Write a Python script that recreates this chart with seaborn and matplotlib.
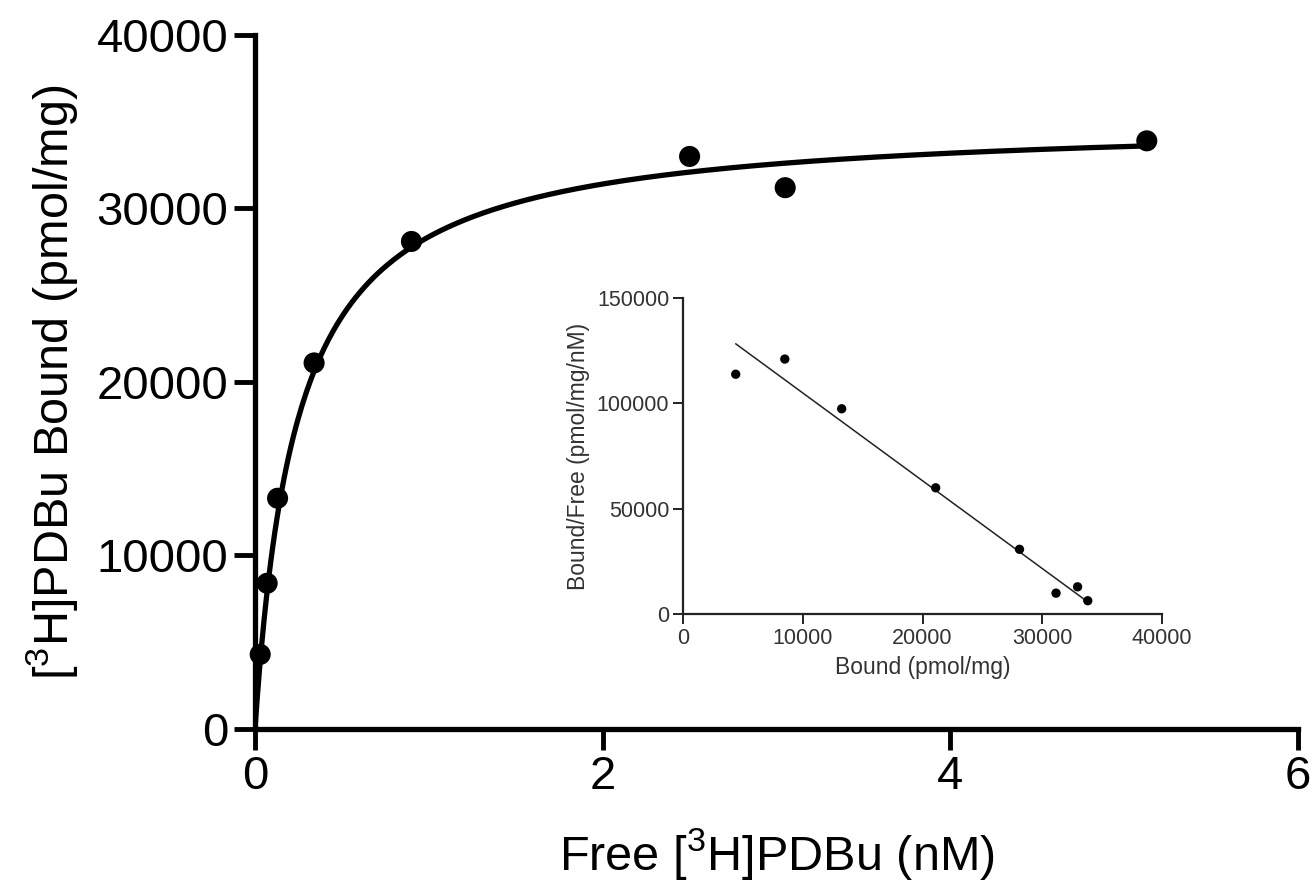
import numpy as np
import pandas as pd
import matplotlib
matplotlib.use("Agg")
import matplotlib.pyplot as plt
import seaborn as sns

# ---- data ----
free_nM = [0.03, 0.07, 0.13, 0.34, 0.90, 2.50, 3.05, 5.13]
bound = [4300, 8400, 13300, 21100, 28100, 33000, 31200, 33900]

sc_bound = [4400, 8500, 13250, 21100, 28100, 31150, 32950, 33800]
sc_ratio = [113800, 121000, 97400, 59900, 30700, 9900, 12900, 6300]

# one-site fit parameters
Bmax = 35180.0
Kd = 0.240

main_xticks = [0, 2, 4, 6]
main_yticks = [0, 10000, 20000, 30000, 40000]
inset_xticks = [0, 10000, 20000, 30000, 40000]
inset_yticks = [0, 50000, 100000, 150000]

sns.set_style("ticks")
plt.rcParams["font.family"] = ["Liberation Sans", "DejaVu Sans"]
plt.rcParams["mathtext.fontset"] = "custom"
plt.rcParams["mathtext.rm"] = "Liberation Sans"
plt.rcParams["mathtext.it"] = "Liberation Sans"
plt.rcParams["text.color"] = "black"
plt.rcParams["axes.labelcolor"] = "black"
plt.rcParams["xtick.color"] = "black"
plt.rcParams["ytick.color"] = "black"

fig = plt.figure(figsize=(13.13, 8.86), dpi=100)
ax = fig.add_axes([0.1942, 0.1772, 0.7944, 0.7833])

xs = np.linspace(0, max(free_nM), 400)
curve = pd.DataFrame({"x": xs, "y": Bmax * xs / (Kd + xs)})
sns.lineplot(data=curve, x="x", y="y", ax=ax, color="black", linewidth=3.8)
pts = pd.DataFrame({"x": free_nM, "y": bound})
sns.scatterplot(data=pts, x="x", y="y", ax=ax, color="black", s=230,
                edgecolor="none", zorder=3, clip_on=False)

ax.set_xlim(0, 6)
ax.set_ylim(0, 40000)
ax.set_xticks(main_xticks)
ax.set_yticks(main_yticks)
ax.set_xticklabels([str(t) for t in main_xticks])
ax.set_yticklabels([str(t) for t in main_yticks])
ax.tick_params(axis="both", labelsize=34, length=15, width=3.5, pad=4,
               color="black", labelcolor="black")
for side in ["left", "bottom"]:
    ax.spines[side].set_linewidth(3.8)
    ax.spines[side].set_color("black")
sns.despine(ax=ax)
ax.set_xlabel(r"Free [$\mathregular{^3}$H]PDBu (nM)", fontsize=35, labelpad=19)
ax.set_ylabel(r"[$\mathregular{^3}$H]PDBu Bound (pmol/mg)", fontsize=35, labelpad=12)

# ---- inset Scatchard plot ----
ins = fig.add_axes([0.5202, 0.3070, 0.3648, 0.3567])
sns.scatterplot(x=sc_bound, y=sc_ratio, ax=ins, color="black", s=45,
                edgecolor="none", zorder=3)
lx = np.linspace(min(sc_bound), max(sc_bound), 50)
line = pd.DataFrame({"x": lx, "y": (Bmax - lx) / Kd})
sns.lineplot(data=line, x="x", y="y", ax=ins, color="#222222", linewidth=1.1)
ins.set_xlim(0, 40000)
ins.set_ylim(0, 150000)
ins.set_xticks(inset_xticks)
ins.set_yticks(inset_yticks)
ins.set_xticklabels([str(t) for t in inset_xticks])
ins.set_yticklabels([str(t) for t in inset_yticks])
ins.tick_params(axis="both", labelsize=15.5, length=7, width=1.4, pad=3,
                color="#222222", labelcolor="#333333")
for side in ["left", "bottom"]:
    ins.spines[side].set_linewidth(1.6)
    ins.spines[side].set_color("#222222")
sns.despine(ax=ins)
ins.set_xlabel("Bound (pmol/mg)", fontsize=16.5, color="#333333", labelpad=5)
ins.set_ylabel("Bound/Free (pmol/mg/nM)", fontsize=16.5, color="#333333", labelpad=5)
ins.patch.set_alpha(0)

fig.savefig("out.png", dpi=100)
